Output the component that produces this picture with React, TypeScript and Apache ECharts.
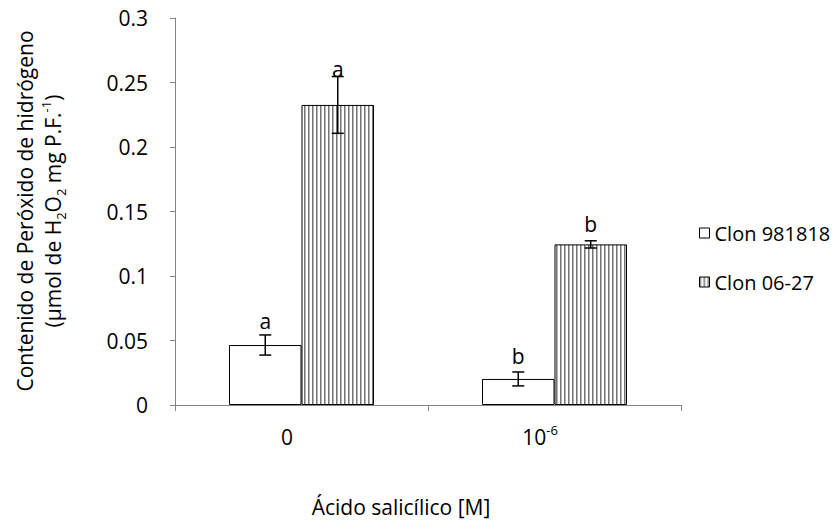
import React, { useEffect, useRef } from 'react';
import * as echarts from 'echarts';

const categories = ['0', '10^-6'];
const seriesNames = ['Clon 981818', 'Clon 06-27'];
const clon981818 = [0.0465, 0.0202];
const clon0627 = [0.2326, 0.1245];
const err981818 = [0.0078, 0.0054];
const err0627 = [0.022, 0.0028];
const letters981818 = ['a', 'b'];
const letters0627 = ['a', 'b'];
const letterBase981818 = [0.0605, 0.0333];
const letterBase0627 = [0.2558, 0.1357];
const yMin = 0;
const yMax = 0.3;
const yInterval = 0.05;
const xTitle = 'Ácido salicílico [M]';
const yTitleLine1 = 'Contenido de Peróxido de hidrógeno';

const FONT = '"Open Sans", "Noto Sans", sans-serif';
const FS = 21;
const CAT_GAP = 0.427;

function makeStripe(): HTMLCanvasElement {
  const c = document.createElement('canvas');
  c.width = 4;
  c.height = 4;
  const ctx = c.getContext('2d')!;
  ctx.fillStyle = '#ffffff';
  ctx.fillRect(0, 0, 4, 4);
  ctx.fillStyle = '#777777';
  ctx.fillRect(0, 0, 1, 4);
  ctx.fillStyle = '#b5b5b5';
  ctx.fillRect(1, 0, 1, 4);
  return c;
}

export default function App() {
  const ref = useRef<HTMLDivElement>(null);
  useEffect(() => {
    document.body.style.margin = '0';
    if (!ref.current) return;
    const chart = echarts.init(ref.current, undefined, { renderer: 'svg' });
    const stripe = makeStripe();

    const errData: number[][] = [];
    const letterList: string[] = [];
    categories.forEach((_, i) => {
      errData.push([i, clon981818[i], err981818[i], 0, letterBase981818[i]]);
      letterList.push(letters981818[i]);
      errData.push([i, clon0627[i], err0627[i], 1, letterBase0627[i]]);
      letterList.push(letters0627[i]);
    });

    const option: any = {
      animation: false,
      backgroundColor: '#ffffff',
      grid: { left: 175, top: 18, right: 157, bottom: 118, containLabel: false },
      legend: {
        orient: 'vertical',
        left: 694,
        top: 218,
        itemWidth: 10,
        itemHeight: 10,
        itemGap: 29,
        icon: 'rect',
        data: seriesNames,
        itemStyle: { borderWidth: 1, borderColor: '#000' },
        textStyle: { fontSize: 20, fontFamily: FONT, color: '#000' },
      },
      xAxis: {
        type: 'category',
        data: categories,
        axisLine: { show: true, lineStyle: { color: '#868686', width: 1 } },
        axisTick: { show: true, length: 6, lineStyle: { color: '#868686' } },
        axisLabel: {
          margin: 18,
          padding: [0, 29, 0, 0],
          formatter: (v: string) => (v === '10^-6' ? '{n|10}{p|-6}' : '{n|' + v + '}'),
          rich: {
            n: { fontSize: FS, fontFamily: FONT, color: '#000', lineHeight: 28 },
            p: { fontSize: 13, fontFamily: FONT, color: '#000', lineHeight: 18, verticalAlign: 'top' },
          },
        },
      },
      yAxis: {
        type: 'value',
        min: yMin,
        max: yMax,
        interval: yInterval,
        splitLine: { show: false },
        axisLine: { show: true, lineStyle: { color: '#868686', width: 1 } },
        axisTick: { show: true, length: 5, lineStyle: { color: '#868686' } },
        axisLabel: { margin: 27, fontSize: FS, fontFamily: FONT, color: '#000' },
      },
      graphic: [
        {
          type: 'text',
          x: 39,
          y: 211,
          rotation: Math.PI / 2,
          style: {
            text:
              '{n|' + yTitleLine1 + '}\n{n|(µmol de H}{s|2}{n|O}{s|2}{n| mg P.F.}{p|-1}{n|)}',
            align: 'center',
            verticalAlign: 'middle',
            fill: '#000',
            fontFamily: FONT,
            fontSize: FS,
            rich: {
              n: { fontSize: FS, fontFamily: FONT, fill: '#000', lineHeight: 28 },
              s: { fontSize: 13, fontFamily: FONT, fill: '#000', lineHeight: 18, verticalAlign: 'bottom' },
              p: { fontSize: 13, fontFamily: FONT, fill: '#000', lineHeight: 18, verticalAlign: 'top' },
            },
          },
        },
        {
          type: 'text',
          x: 401,
          y: 507,
          style: {
            text: xTitle,
            align: 'center',
            verticalAlign: 'middle',
            fill: '#000',
            fontFamily: FONT,
            fontSize: FS,
          },
        },
      ],
      series: [
        {
          type: 'bar',
          name: seriesNames[0],
          data: clon981818,
          barGap: '0%',
          barCategoryGap: '42.7%',
          itemStyle: { color: '#ffffff', borderColor: '#000', borderWidth: 1 },
        },
        {
          type: 'bar',
          name: seriesNames[1],
          data: clon0627,
          barGap: '0%',
          barCategoryGap: '42.7%',
          itemStyle: {
            color: { image: stripe, repeat: 'repeat' },
            borderColor: '#000',
            borderWidth: 1,
          },
        },
        {
          type: 'custom',
          name: 'err',
          z: 5,
          data: errData,
          renderItem: (params: any, api: any) => {
            const idx = api.value(0);
            const val = api.value(1);
            const err = api.value(2);
            const s = api.value(3);
            const lb = api.value(4);
            const catW = api.size([1, 0])[0];
            const barW = (catW * (1 - CAT_GAP)) / 2;
            const c = api.coord([idx, val]);
            const x = c[0] + (s === 0 ? -barW / 2 : barW / 2);
            const top = api.coord([idx, val + err])[1];
            const bot = api.coord([idx, val - err])[1];
            const ly = api.coord([idx, lb])[1];
            const st = { stroke: '#000', lineWidth: 1.5 };
            return {
              type: 'group',
              children: [
                { type: 'line', shape: { x1: x, y1: top, x2: x, y2: bot }, style: st },
                { type: 'line', shape: { x1: x - 6, y1: top, x2: x + 6, y2: top }, style: st },
                { type: 'line', shape: { x1: x - 6, y1: bot, x2: x + 6, y2: bot }, style: st },
                {
                  type: 'text',
                  style: {
                    text: letterList[params.dataIndex],
                    x: x,
                    y: ly - 6,
                    align: 'center',
                    verticalAlign: 'middle',
                    fontSize: FS,
                    fontFamily: FONT,
                    fill: '#000',
                  },
                },
              ],
            };
          },
        },
      ],
    };
    chart.setOption(option);
    return () => chart.dispose();
  }, []);
  return <div ref={ref} style={{ width: 838, height: 523 }} />;
}
